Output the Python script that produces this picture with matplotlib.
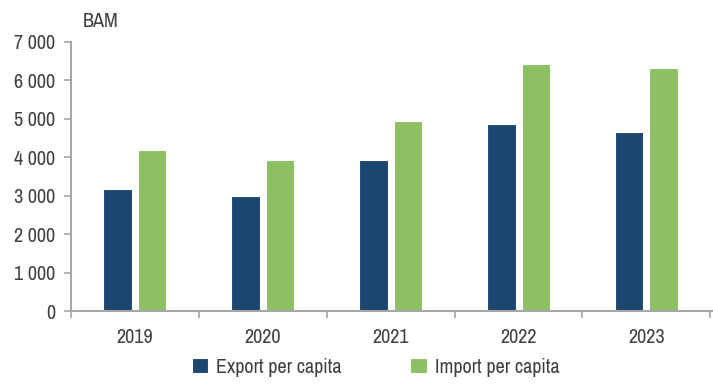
import matplotlib
matplotlib.use("Agg")
import matplotlib.pyplot as plt
import numpy as np

years = ["2019", "2020", "2021", "2022", "2023"]
export_pc = [3170, 2990, 3930, 4860, 4660]
import_pc = [4190, 3930, 4950, 6420, 6330]

plt.rcParams["font.family"] = ["Archivo Narrow", "DejaVu Sans"]

TXT = "#404040"
GRID = "#a6a6a6"
BLUE = "#1a4670"
GREEN = "#8cc063"
FS = 14.5

fig = plt.figure(figsize=(7.13, 3.87), dpi=100)
ax = fig.add_axes([0.0992, 0.1956, 0.9008, 0.6966])

x = np.arange(len(years))
w = 0.225
off = 0.136
ax.bar(x - off, export_pc, w, color=BLUE, edgecolor="white", linewidth=0.8, label="Export per capita")
ax.bar(x + off, import_pc, w, color=GREEN, edgecolor="white", linewidth=0.8, label="Import per capita")

ax.set_xlim(-0.5, len(years) - 0.5 + 0.02)
ax.set_ylim(0, 7000)
ax.set_yticks(range(0, 7001, 1000))
ax.set_yticklabels([f"{v:,}".replace(",", " ") for v in range(0, 7001, 1000)])
ax.set_xticks(x)
ax.set_xticklabels(years)
ax.set_xticks(np.arange(-0.5, len(years) + 0.5, 1), minor=True)
ax.tick_params(axis="x", which="major", length=0, pad=12, labelsize=FS, colors=TXT)
ax.tick_params(axis="x", which="minor", length=5, width=1.2, color=GRID)
ax.tick_params(axis="y", length=5, width=1.2, color=GRID, labelsize=FS, labelcolor=TXT, pad=6)

for s in ["top", "right"]:
    ax.spines[s].set_visible(False)
for s in ["left", "bottom"]:
    ax.spines[s].set_color(GRID)
    ax.spines[s].set_linewidth(1.5)

fig.text(0.116, 0.945, "BAM", fontsize=FS, color=TXT, ha="left", va="center")

leg = fig.legend(loc="lower center", bbox_to_anchor=(0.527, -0.02), ncol=2, frameon=False,
                 fontsize=FS, handlelength=0.8, handleheight=0.8, handletextpad=0.4,
                 columnspacing=3.4)
for t in leg.get_texts():
    t.set_color(TXT)

fig.savefig("out.png", dpi=100)
